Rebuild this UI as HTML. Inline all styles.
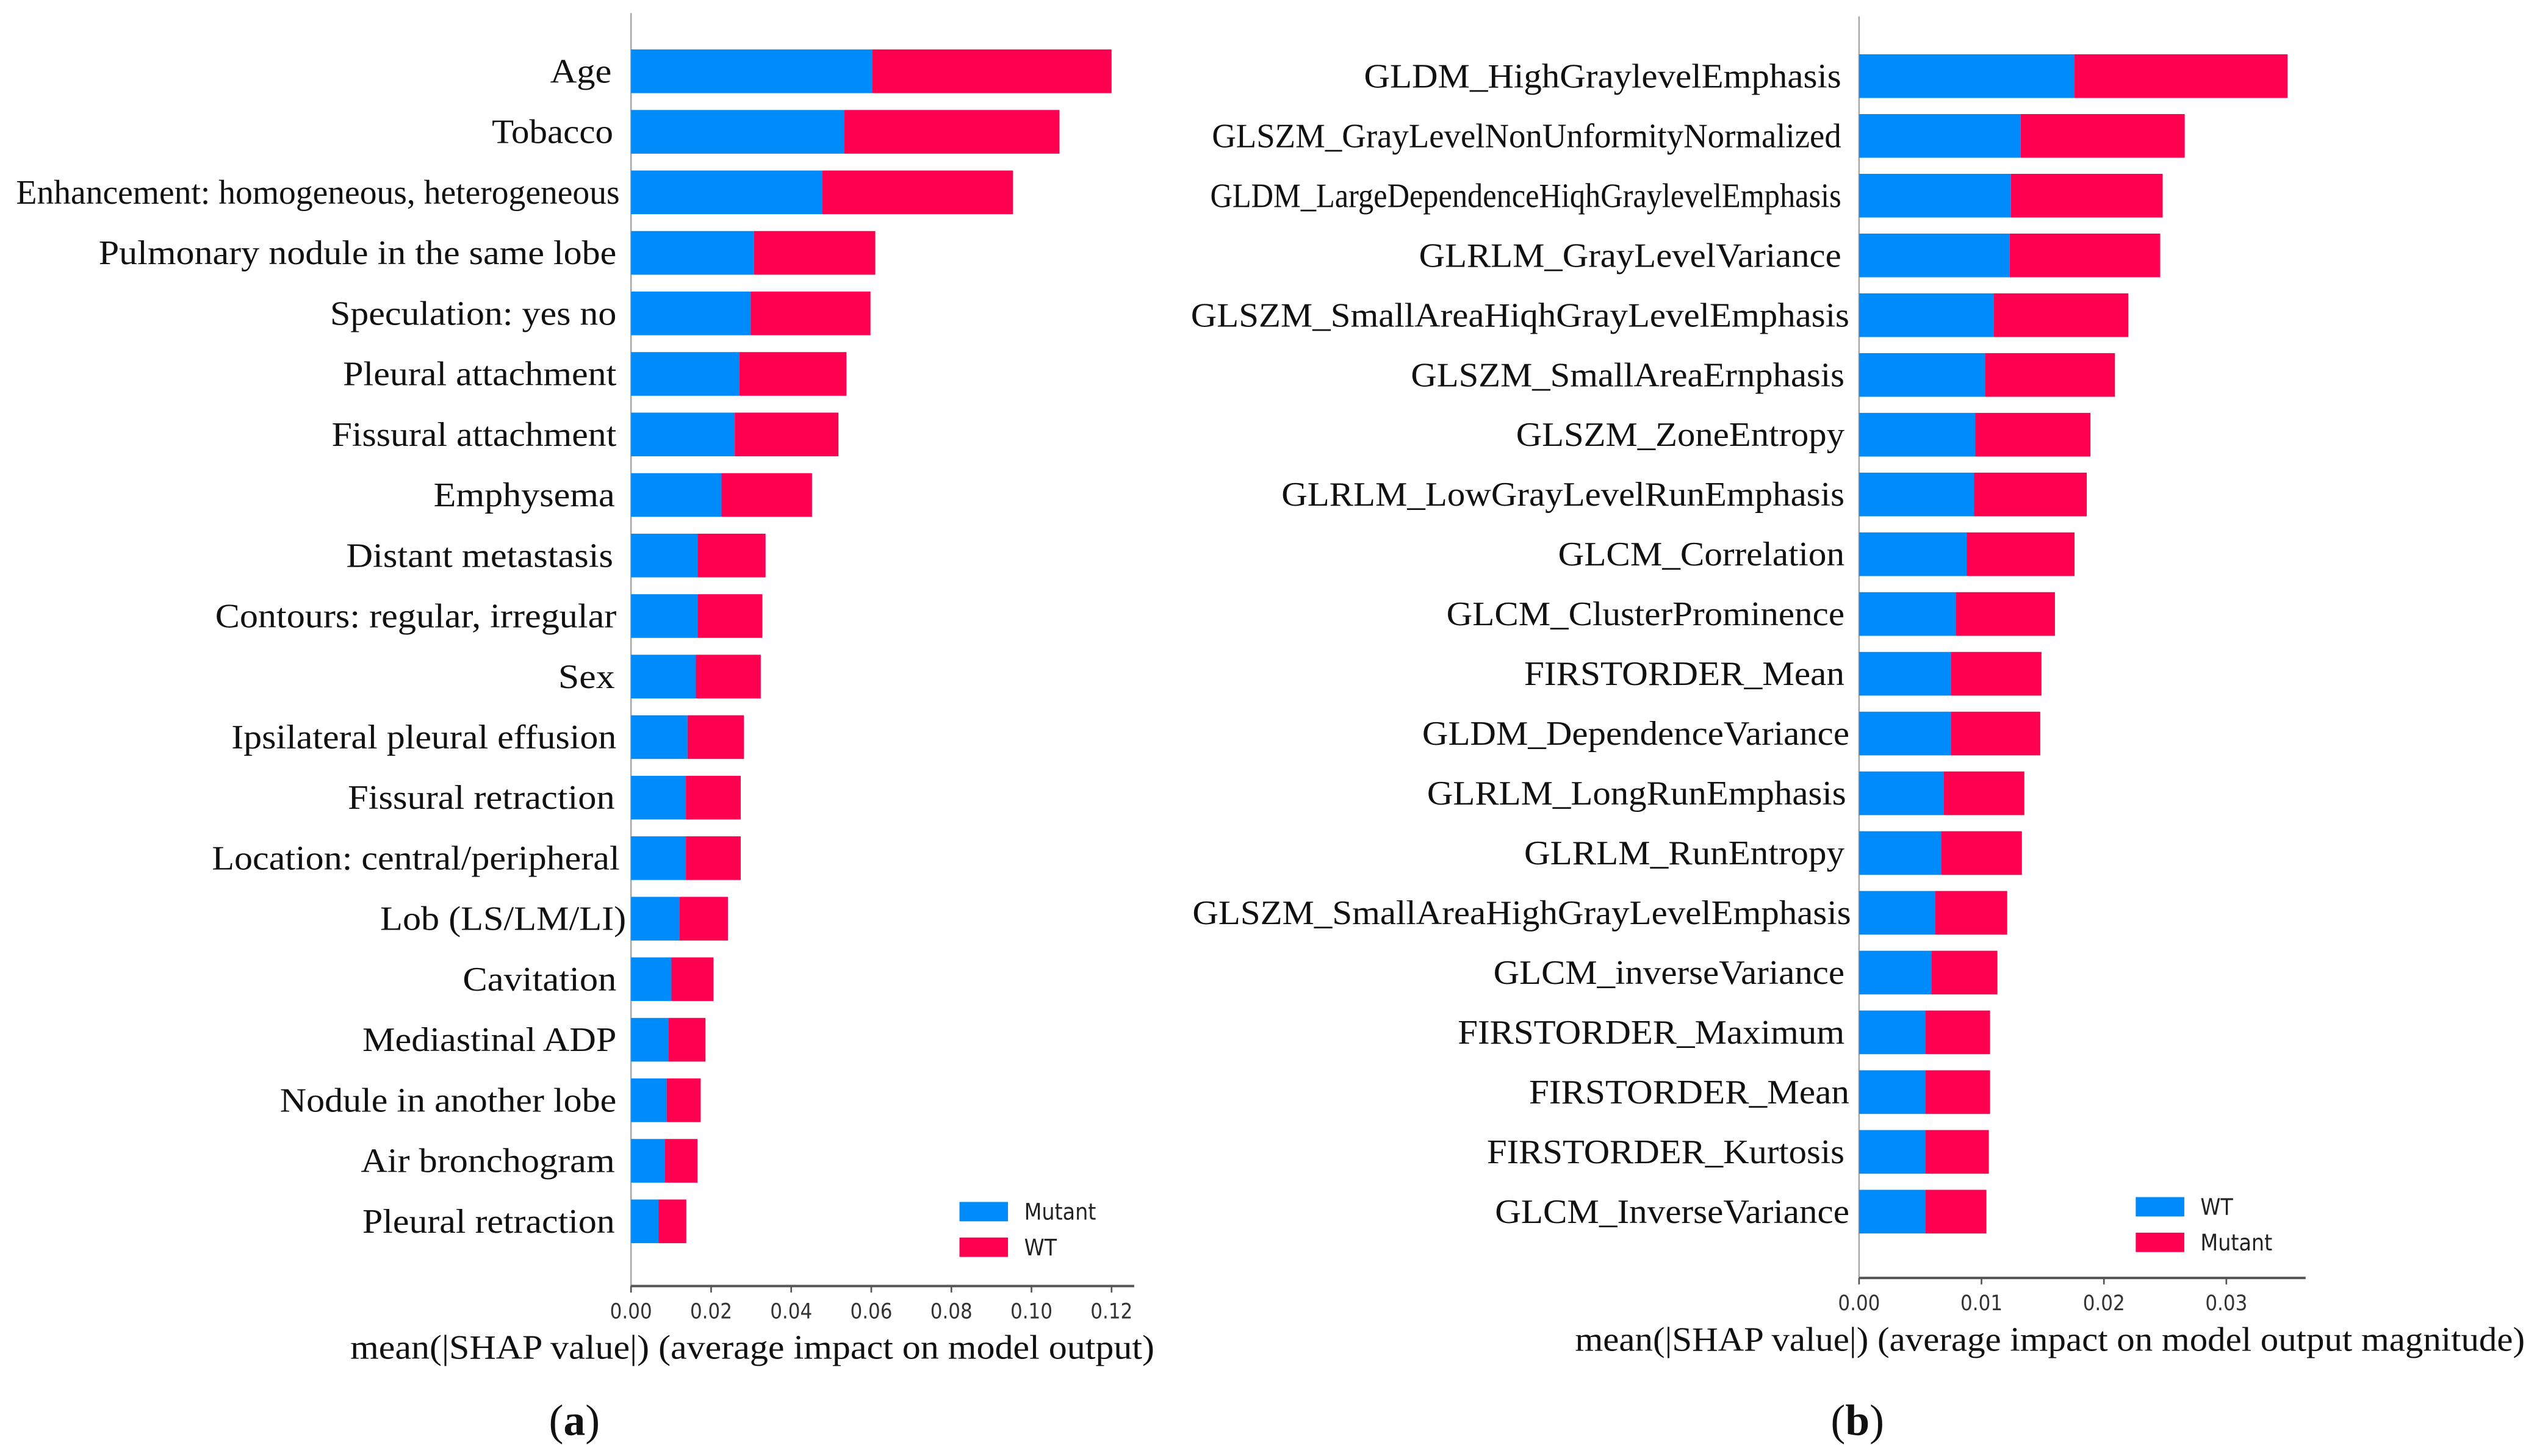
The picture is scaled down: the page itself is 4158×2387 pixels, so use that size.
<!DOCTYPE html>
<html><head><meta charset="utf-8"><style>
html,body{margin:0;padding:0;background:#fff;}
svg{display:block;}
.lbl{font-family:"Liberation Serif",serif;font-size:21px;fill:#111;}
.tick{font-family:"DejaVu Sans Condensed","DejaVu Sans",sans-serif;font-size:13px;fill:#333;}
.leg{font-family:"DejaVu Sans Condensed","DejaVu Sans",sans-serif;font-size:14px;fill:#222;}
.xl{font-family:"Liberation Serif",serif;font-size:21px;fill:#111;}
.pl{font-family:"Liberation Serif",serif;font-size:27px;fill:#111;}
</style></head><body>
<svg id="fig" width="4158" height="2387" viewBox="0 0 1568 900" xmlns="http://www.w3.org/2000/svg">
<rect width="1568" height="900" fill="#fff"/>
<g id="pa"></g>
<g id="pb"></g>
</svg>
<script>
// Panel (a) data
const catsA = ["Age","Tobacco","Enhancement: homogeneous, heterogeneous","Pulmonary nodule in the same lobe","Speculation: yes no","Pleural attachment","Fissural attachment","Emphysema","Distant metastasis","Contours: regular, irregular","Sex","Ipsilateral pleural effusion","Fissural retraction","Location: central/peripheral","Lob (LS/LM/LI)","Cavitation","Mediastinal ADP","Nodule in another lobe","Air bronchogram","Pleural retraction"];
const mutantA = [0.0602,0.0533,0.0477,0.0307,0.0299,0.0271,0.0259,0.0226,0.0166,0.0166,0.0162,0.0141,0.0137,0.0137,0.0121,0.0101,0.0093,0.0089,0.0085,0.0069];
const wtA = [0.0598,0.0537,0.0477,0.0303,0.0299,0.0267,0.0259,0.0226,0.0170,0.0162,0.0162,0.0141,0.0137,0.0137,0.0121,0.0105,0.0093,0.0085,0.0081,0.0069];
const ticksA = [0,0.02,0.04,0.06,0.08,0.10,0.12];
const tickLabelsA = ["0.00","0.02","0.04","0.06","0.08","0.10","0.12"];
// Panel (b) data
const catsB = ["GLDM_HighGraylevelEmphasis","GLSZM_GrayLevelNonUnformityNormalized","GLDM_LargeDependenceHiqhGraylevelEmphasis","GLRLM_GrayLevelVariance","GLSZM_SmallAreaHiqhGrayLevelEmphasis","GLSZM_SmallAreaErnphasis","GLSZM_ZoneEntropy","GLRLM_LowGrayLevelRunEmphasis","GLCM_Correlation","GLCM_ClusterProminence","FIRSTORDER_Mean","GLDM_DependenceVariance","GLRLM_LongRunEmphasis","GLRLM_RunEntropy","GLSZM_SmallAreaHighGrayLevelEmphasis","GLCM_inverseVariance","FIRSTORDER_Maximum","FIRSTORDER_Mean","FIRSTORDER_Kurtosis","GLCM_InverseVariance"];
const wtB = [0.0176,0.0132,0.0124,0.0123,0.0110,0.0103,0.0095,0.0094,0.0088,0.0079,0.0075,0.0075,0.0069,0.0067,0.0062,0.0059,0.0054,0.0054,0.0054,0.0054];
const mutantB = [0.0174,0.0134,0.0124,0.0123,0.0110,0.0106,0.0094,0.0092,0.0088,0.0081,0.0074,0.0073,0.0066,0.0066,0.0059,0.0054,0.0053,0.0053,0.0052,0.0050];
const ticksB = [0,0.01,0.02,0.03];
const tickLabelsB = ["0.00","0.01","0.02","0.03"];
// label layout (styling, not data)
const lblA = [[340,378],[304,379],[10,383],[61,381],[204,381],[212,381],[205,381],[268,380],[214,379],[133,381],[345,380],[143,381],[215,380],[131,383],[235,387],[286,381],[224,381],[173,381],[223,380],[224,380]];
const lblB = [[843,1138],[749,1138],[748,1138],[877,1138],[736,1143],[872,1140],[937,1140],[792,1140],[963,1140],[894,1140],[942,1140],[879,1143],[882,1141],[942,1140],[737,1144],[923,1140],[901,1140],[945,1143],[919,1140],[924,1143]];

const NS = "http://www.w3.org/2000/svg";
const BLUE = "#008bfb", RED = "#ff0051";
function mk(tag, attrs, parent){const e=document.createElementNS(NS,tag);for(const k in attrs)e.setAttribute(k,attrs[k]);parent.appendChild(e);return e;}

function panel(g, cfg){
  const xs = v => cfg.x0 + (v/cfg.tmax)*(cfg.xmaxPx-cfg.x0);
  const ys = i => cfg.yFirst + i*(cfg.yLast-cfg.yFirst)/(cfg.cats.length-1);
  const ya = mk("line",{x1:cfg.x0,y1:cfg.top,x2:cfg.x0,y2:cfg.axisY,stroke:"#aaa","stroke-width":1},g);
  
  
  for(let i=0;i<cfg.cats.length;i++){
    const y = ys(i);
    const b1 = mk("rect",{x:xs(0),y:y-13.5,width:xs(cfg.s1[i])-xs(0),height:27,fill:BLUE},g);
    
    
    const b2 = mk("rect",{x:xs(cfg.s1[i]),y:y-13.5,width:xs(cfg.s1[i]+cfg.s2[i])-xs(cfg.s1[i]),height:27,fill:RED},g);
    
    
    const L = cfg.lbl[i];
    const t = mk("text",{x:L[1],y:y+7,"text-anchor":"end",class:"lbl",textLength:L[1]-L[0],lengthAdjust:"spacingAndGlyphs"},g);
    t.textContent = cfg.cats[i];
    
    
  }
  const xa = mk("line",{x1:cfg.x0,y1:cfg.axisY,x2:cfg.axisEnd,y2:cfg.axisY,stroke:"#555","stroke-width":1.5},g);
  
  
  cfg.ticks.forEach((v,j)=>{
    const tk = mk("line",{x1:xs(v),y1:cfg.axisY,x2:xs(v),y2:cfg.axisY+4,stroke:"#555","stroke-width":1},g);
    
    
    const tl = mk("text",{x:xs(v),y:cfg.axisY+20,"text-anchor":"middle",class:"tick"},g);
    tl.textContent = cfg.tickLabels[j];
    
    
  });
  const xl = mk("text",{x:cfg.xlX,y:cfg.axisY+45,"text-anchor":"middle",class:"xl",textLength:cfg.xlW,lengthAdjust:"spacingAndGlyphs"},g);
  xl.textContent = cfg.xlabel;
  
  
  const lg = mk("g",{},g);
  
  
  [[BLUE,cfg.n1Label,0],[RED,cfg.n2Label,22]].forEach(e=>{
    const r = mk("rect",{x:cfg.legX,y:cfg.legY+e[2],width:30,height:12,fill:e[0]},lg);
    
    
    const tx = mk("text",{x:cfg.legX+40,y:cfg.legY+e[2]+11,class:"leg"},lg);
    tx.textContent = e[1];
    
    
  });
  const pl = mk("text",{x:cfg.plX,y:887,"text-anchor":"middle",class:"pl"},g);
  pl.innerHTML = '(<tspan font-weight="bold">'+cfg.plTxt+'</tspan>)';
  
  
}

panel(document.getElementById('pa'),{cats:catsA,s1:mutantA,s2:wtA,n1:'mutant',n2:'wt',n1Label:'Mutant',n2Label:'WT',
  x0:390,tmax:0.12,xmaxPx:687,yFirst:44,yLast:755,top:8,axisY:795,axisEnd:701,ticks:ticksA,tickLabels:tickLabelsA,lbl:lblA,
  xlabel:"mean(|SHAP value|) (average impact on model output)",xlX:465,xlW:497,legX:593,legY:743,plX:355,plTxt:'a'});
panel(document.getElementById('pb'),{cats:catsB,s1:wtB,s2:mutantB,n1:'wt',n2:'mutant',n1Label:'WT',n2Label:'Mutant',
  x0:1149,tmax:0.03,xmaxPx:1376,yFirst:47,yLast:749,top:10,axisY:790,axisEnd:1425,ticks:ticksB,tickLabels:tickLabelsB,lbl:lblB,
  xlabel:"mean(|SHAP value|) (average impact on model output magnitude)",xlX:1267,xlW:587,legX:1320,legY:740,plX:1148,plTxt:'b'});
</script>
</body></html>
